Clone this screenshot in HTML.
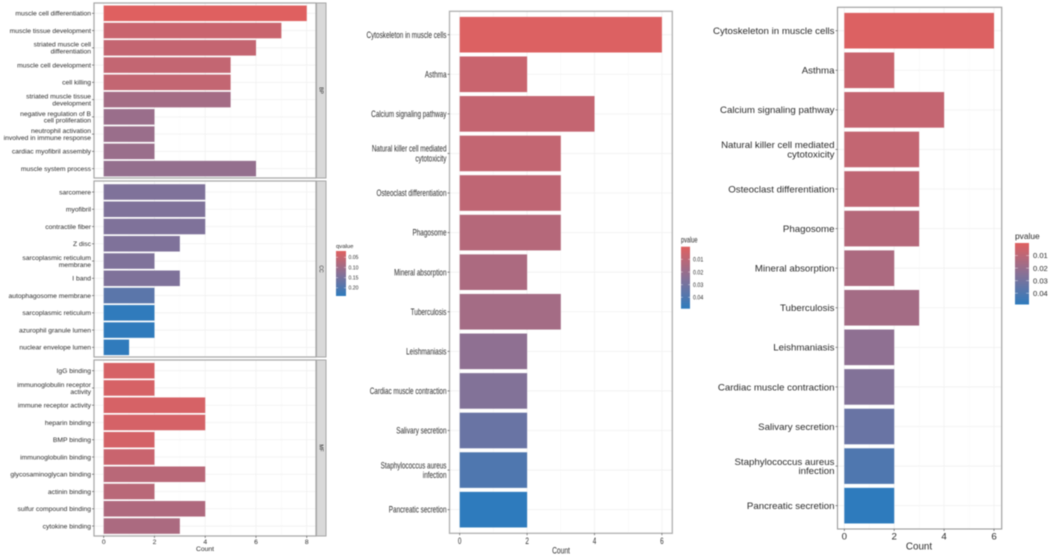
<!DOCTYPE html>
<html lang="en">
<head>
<meta charset="utf-8">
<title>Enrichment bar charts</title>
<style>
html,body{margin:0;padding:0;background:#fff;width:1052px;height:559px;overflow:hidden}
svg{display:block;filter:blur(0.4px)}
text{font-family:"Liberation Sans",sans-serif;fill:#2b2b2b}
</style>
</head>
<body>
<svg id="figure" xmlns="http://www.w3.org/2000/svg" width="1052" height="559" viewBox="0 0 1052 559">
<defs id="gradients"></defs>
</svg>
<script>
// ---- Left chart data: GO terms by ontology ----
const bpTerms = ["muscle cell differentiation","muscle tissue development","striated muscle cell\ndifferentiation","muscle cell development","cell killing","striated muscle tissue\ndevelopment","negative regulation of B\ncell proliferation","neutrophil activation\ninvolved in immune response","cardiac myofibril assembly","muscle system process"];
const bpCounts = [8,7,6,5,5,5,2,2,2,6];
const bpQvalues = [0.02,0.048,0.054,0.056,0.056,0.094,0.107,0.107,0.107,0.114];
const ccTerms = ["sarcomere","myofibril","contractile fiber","Z disc","sarcoplasmic reticulum\nmembrane","I band","autophagosome membrane","sarcoplasmic reticulum","azurophil granule lumen","nuclear envelope lumen"];
const ccCounts = [4,4,4,3,2,3,2,2,2,1];
const ccQvalues = [0.14,0.14,0.14,0.14,0.14,0.14,0.185,0.238,0.238,0.238];
const mfTerms = ["IgG binding","immunoglobulin receptor\nactivity","immune receptor activity","heparin binding","BMP binding","immunoglobulin binding","glycosaminoglycan binding","actinin binding","sulfur compound binding","cytokine binding"];
const mfCounts = [2,2,4,4,2,2,4,2,4,3];
const mfQvalues = [0.032,0.032,0.032,0.033,0.034,0.048,0.068,0.068,0.08,0.085];
const leftTicks = [0,2,4,6,8];
const qLegendTicks = [0.05,0.10,0.15,0.20];
const qRange = [0.019,0.24];

// ---- Middle and right chart data: KEGG pathways ----
const keggTerms = ["Cytoskeleton in muscle cells","Asthma","Calcium signaling pathway","Natural killer cell mediated\ncytotoxicity","Osteoclast differentiation","Phagosome","Mineral absorption","Tuberculosis","Leishmaniasis","Cardiac muscle contraction","Salivary secretion","Staphylococcus aureus\ninfection","Pancreatic secretion"];
const keggCounts = [6,2,4,3,3,3,2,3,2,2,2,2,2];
const keggPvalues = [0.001,0.0064,0.0078,0.008,0.0093,0.012,0.0146,0.0167,0.0225,0.026,0.033,0.04,0.049];
const keggTicks = [0,2,4,6];
const pLegendTicks = [0.01,0.02,0.03,0.04];
const pRange = [0,0.049];

const lowColor = [224,96,96];
const midColor = [136,113,150];
const highColor = [46,123,189];

const svg = document.getElementById('figure');
const NS = 'http://www.w3.org/2000/svg';

function make(tag, attrs, parent) {
  const el = document.createElementNS(NS, tag);
  for (const k in attrs) el.setAttribute(k, attrs[k]);
  (parent || svg).appendChild(el);
  return el;
}

function fillFor(value, range) {
  const t = Math.max(0, Math.min(1, (value - range[0]) / (range[1] - range[0])));
  const a = t < 0.5 ? lowColor : midColor;
  const b = t < 0.5 ? midColor : highColor;
  const u = t < 0.5 ? t * 2 : (t - 0.5) * 2;
  return 'rgb(' + a.map((c, i) => Math.round(c + (b[i] - c) * u)).join(',') + ')';
}

function label(parent, str, x, y, size, sx, anchor, lineGap) {
  const lines = String(str).split('\n');
  const top = y - (lines.length - 1) * lineGap / 2;
  lines.forEach((line, i) => {
    const t = make('text', {
      transform: 'translate(' + x + ',' + (top + i * lineGap + size * 0.35) + ') scale(' + sx + ',1)',
      'font-size': size,
      'text-anchor': anchor
    }, parent);
    t.textContent = line;
    
    
  });
}

// cfg: left, right, top, bottom, x0, unit, rowFirst, rowStep, barFrac, style
function drawPanel(name, cfg, terms, counts, values, range, ticks, showTicks) {
  const g = make('g', {});
  
  
  const xScale = v => cfg.x0 + v * cfg.unit;
  const yScale = i => cfg.rowFirst + i * cfg.rowStep;

  for (let v = 0; xScale(v) < cfg.right; v += 1) {
    const line = make('line', {x1: xScale(v), x2: xScale(v), y1: cfg.top, y2: cfg.bottom, stroke: v % 2 ? '#f7f7f7' : '#f0f0f0', 'stroke-width': v % 2 ? 0.5 : 0.8}, g);
    
    
  }
  terms.forEach((term, i) => {
    const line = make('line', {x1: cfg.left, x2: cfg.right, y1: yScale(i), y2: yScale(i), stroke: '#f0f0f0', 'stroke-width': 0.8}, g);
    
    
  });
  counts.forEach((count, i) => {
    const h = cfg.rowStep * cfg.barFrac;
    const bar = make('rect', {x: xScale(0), y: yScale(i) - h / 2, width: xScale(count) - xScale(0), height: h, fill: fillFor(values[i], range)}, g);
    
    
  });
  const frame = make('rect', {x: cfg.left, y: cfg.top, width: cfg.right - cfg.left, height: cfg.bottom - cfg.top, fill: 'none', stroke: cfg.frame, 'stroke-width': cfg.frameWidth}, g);
  
  

  terms.forEach((term, i) => {
    const tick = make('line', {x1: cfg.left - 2, x2: cfg.left, y1: yScale(i), y2: yScale(i), stroke: '#444', 'stroke-width': 0.6}, g);
    
    
    label(g, term, cfg.left - 3, yScale(i), cfg.fontSize, cfg.textScale, 'end', cfg.lineGap);
  });
  if (showTicks) {
    ticks.forEach(v => {
      const tick = make('line', {x1: xScale(v), x2: xScale(v), y1: cfg.bottom, y2: cfg.bottom + 2, stroke: '#444', 'stroke-width': 0.6}, g);
      
      
      label(g, v, xScale(v), cfg.tickY, cfg.fontSize, cfg.textScale, 'middle', 0);
    });
  }
}

function drawStrip(x, w, top, bottom, text) {
  const strip = make('rect', {x: x, y: top, width: w, height: bottom - top, fill: '#d9d9d9', stroke: '#a6a6a6', 'stroke-width': 1});
  
  
  const t = make('text', {transform: 'translate(' + (x + w / 2 - 1.8) + ',' + (top + bottom) / 2 + ') rotate(90)', 'font-size': 5, 'text-anchor': 'middle'});
  t.textContent = text;
  
  
}

function drawLegend(id, title, ticks, range, cfg) {
  const g = make('g', {});
  
  
  const grad = make('linearGradient', {id: id + '-grad', x1: 0, x2: 0, y1: 0, y2: 1}, document.getElementById('gradients'));
  [0, 0.25, 0.5, 0.75, 1].forEach(p => {
    make('stop', {offset: p, 'stop-color': fillFor(range[0] + p * (range[1] - range[0]), range)}, grad);
  });
  const bar = make('rect', {x: cfg.x, y: cfg.top, width: cfg.w, height: cfg.bottom - cfg.top, fill: 'url(#' + id + '-grad)'}, g);
  
  
  label(g, title, cfg.x, cfg.titleY, cfg.titleSize, cfg.titleScale, 'start', 0);
  const y = v => cfg.top + (v - range[0]) / (range[1] - range[0]) * (cfg.bottom - cfg.top);
  ticks.forEach(v => {
    [[cfg.x, cfg.x + cfg.w * 0.2], [cfg.x + cfg.w * 0.8, cfg.x + cfg.w]].forEach(p => {
      const m = make('line', {x1: p[0], x2: p[1], y1: y(v), y2: y(v), stroke: '#fff', 'stroke-width': 0.5, opacity: 0.8}, g);
      
      
    });
    label(g, v.toFixed(2), cfg.x + cfg.w + cfg.gap, y(v), cfg.size, cfg.textScale, 'start', 0);
  });
}

// ---- Left faceted chart ----
const leftBase = {left: 94, right: 316, x0: 103.7, unit: 25.38, rowStep: 17.26, barFrac: 0.9, fontSize: 6.75, textScale: 1, lineGap: 6.9, frame: '#a6a6a6', frameWidth: 1.2, tickY: 541.5};
drawPanel('bp', Object.assign({}, leftBase, {top: 3, bottom: 178, rowFirst: 13.3}), bpTerms, bpCounts, bpQvalues, qRange, leftTicks, false);
drawPanel('cc', Object.assign({}, leftBase, {top: 181, bottom: 357, rowFirst: 192}), ccTerms, ccCounts, ccQvalues, qRange, leftTicks, false);
drawPanel('mf', Object.assign({}, leftBase, {top: 360, bottom: 536, rowFirst: 370.7}), mfTerms, mfCounts, mfQvalues, qRange, leftTicks, true);
drawStrip(316.5, 9.5, 3, 178, 'BP');
drawStrip(316.5, 9.5, 181, 357, 'CC');
drawStrip(316.5, 9.5, 360, 536, 'MF');
label(svg, 'Count', 205, 548.5, 6.8, 1, 'middle', 0);
drawLegend('qvalue-legend', 'qvalue', qLegendTicks, qRange, {x: 336, w: 10, top: 251, bottom: 296, titleY: 246, titleSize: 5.9, titleScale: 1, size: 5.1, gap: 2.5, textScale: 1});

// ---- Middle chart ----
drawPanel('kegg-middle', {left: 449.5, right: 672.3, top: 11.3, bottom: 533.3, x0: 459.7, unit: 33.7, rowFirst: 34.7, rowStep: 39.58, barFrac: 0.9, fontSize: 8.8, textScale: 0.725, lineGap: 9.8, frame: '#b0b0b0', frameWidth: 1.3, tickY: 540.8}, keggTerms, keggCounts, keggPvalues, pRange, keggTicks, true);
label(svg, 'Count', 561, 550.5, 8.8, 0.76, 'middle', 0);
drawLegend('pvalue-legend-middle', 'pvalue', pLegendTicks, pRange, {x: 681, w: 9, top: 246.7, bottom: 308.7, titleY: 240, titleSize: 7.8, titleScale: 0.72, size: 6.8, gap: 3, textScale: 0.78});

// ---- Right chart ----
drawPanel('kegg-right', {left: 837.5, right: 1001.7, top: 7.3, bottom: 529, x0: 844.3, unit: 24.95, rowFirst: 30.7, rowStep: 39.58, barFrac: 0.9, fontSize: 9.6, textScale: 1.01, lineGap: 9.2, frame: '#9a9a9a', frameWidth: 1.1, tickY: 536.2}, keggTerms, keggCounts, keggPvalues, pRange, keggTicks, true);
label(svg, 'Count', 919, 546.2, 9.8, 1, 'middle', 0);
drawLegend('pvalue-legend-right', 'pvalue', pLegendTicks, pRange, {x: 1015, w: 14, top: 243, bottom: 304.5, titleY: 236, titleSize: 8.4, titleScale: 1, size: 7.6, gap: 4, textScale: 1});
</script>
</body>
</html>
